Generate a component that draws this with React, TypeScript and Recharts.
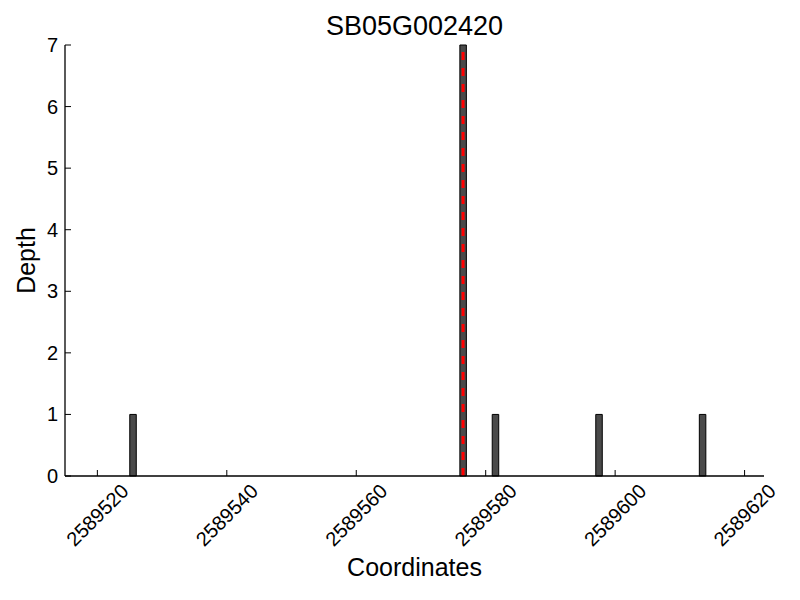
import React from "react";
import {
  ComposedChart,
  Bar,
  XAxis,
  YAxis,
  ReferenceLine,
} from "recharts";

const title = "SB05G002420";
const binStarts = [2589525, 2589576, 2589581, 2589597, 2589613];
const depths = [1, 7, 1, 1, 1];
const binWidth = 1;
const markerPos = 2589576.5;
const xTicks = [2589520, 2589540, 2589560, 2589580, 2589600, 2589620];
const yTicks = [0, 1, 2, 3, 4, 5, 6, 7];
const xDomain = [2589515, 2589623];

const FONT = '"Liberation Sans", Arial, sans-serif';

const chartData = binStarts.map((s, i) => ({ pos: s + binWidth / 2, depth: depths[i] }));

const XTick = (props: any) => {
  const { x, y, payload } = props;
  return (
    <g>
      <line x1={x} y1={y} x2={x} y2={y - 6} stroke="#000" strokeWidth={1} />
      <text
        x={x}
        y={y + 39}
        transform={`rotate(-45 ${x} ${y + 39})`}
        textAnchor="middle"
        dominantBaseline="central"
        fontSize={20}
        fontFamily={FONT}
        fill="#000"
      >
        {payload.value}
      </text>
    </g>
  );
};

const YTick = (props: any) => {
  const { x, y, payload } = props;
  return (
    <g>
      <line x1={x} y1={y} x2={x + 6} y2={y} stroke="#000" strokeWidth={1} />
      <text
        x={x - 7}
        y={y}
        textAnchor="end"
        dominantBaseline="central"
        fontSize={20}
        fontFamily={FONT}
        fill="#000"
      >
        {payload.value}
      </text>
    </g>
  );
};

const DepthLabel = (props: any) => {
  const vb = props.viewBox;
  const cx = 26;
  const cy = vb.y + vb.height / 2;
  return (
    <text
      x={cx}
      y={cy}
      transform={`rotate(-90 ${cx} ${cy})`}
      textAnchor="middle"
      dominantBaseline="central"
      fontSize={25}
      fontFamily={FONT}
      fill="#000"
    >
      Depth
    </text>
  );
};

const CoordLabel = (props: any) => {
  const vb = props.viewBox;
  return (
    <text
      x={vb.x + vb.width / 2}
      y={576}
      textAnchor="middle"
      fontSize={25}
      fontFamily={FONT}
      fill="#000"
    >
      Coordinates
    </text>
  );
};

export default function App() {
  return (
    <div style={{ position: "absolute", left: 0, top: 0, width: 800, height: 600, background: "#fff" }}>
      <div
        style={{
          position: "absolute",
          left: 65,
          width: 699,
          top: 11,
          textAlign: "center",
          fontFamily: FONT,
          fontSize: 27,
          lineHeight: "30px",
          color: "#000",
        }}
      >
        {title}
      </div>
      <ComposedChart
        width={800}
        height={600}
        data={chartData}
        margin={{ top: 45, right: 36, bottom: 44, left: 0 }}
      >
        <XAxis
          dataKey="pos"
          type="number"
          domain={xDomain}
          allowDataOverflow
          ticks={xTicks}
          interval={0}
          height={80}
          tickSize={0}
          tickMargin={0}
          tickLine={false}
          axisLine={{ stroke: "#000", strokeWidth: 1.3 }}
          tick={<XTick />}
          label={<CoordLabel />}
        />
        <YAxis
          type="number"
          domain={[0, 7]}
          ticks={yTicks}
          interval={0}
          width={65}
          tickSize={0}
          tickMargin={0}
          tickLine={false}
          axisLine={{ stroke: "#000", strokeWidth: 1.3 }}
          tick={<YTick />}
          label={<DepthLabel />}
        />
        <Bar
          dataKey="depth"
          barSize={6.5}
          fill="#4a4a4a"
          stroke="#000"
          strokeWidth={1}
          isAnimationActive={false}
        />
        <ReferenceLine
          x={markerPos}
          stroke="#ff0000"
          strokeWidth={3}
          strokeDasharray="8 8"
        />
      </ComposedChart>
    </div>
  );
}
